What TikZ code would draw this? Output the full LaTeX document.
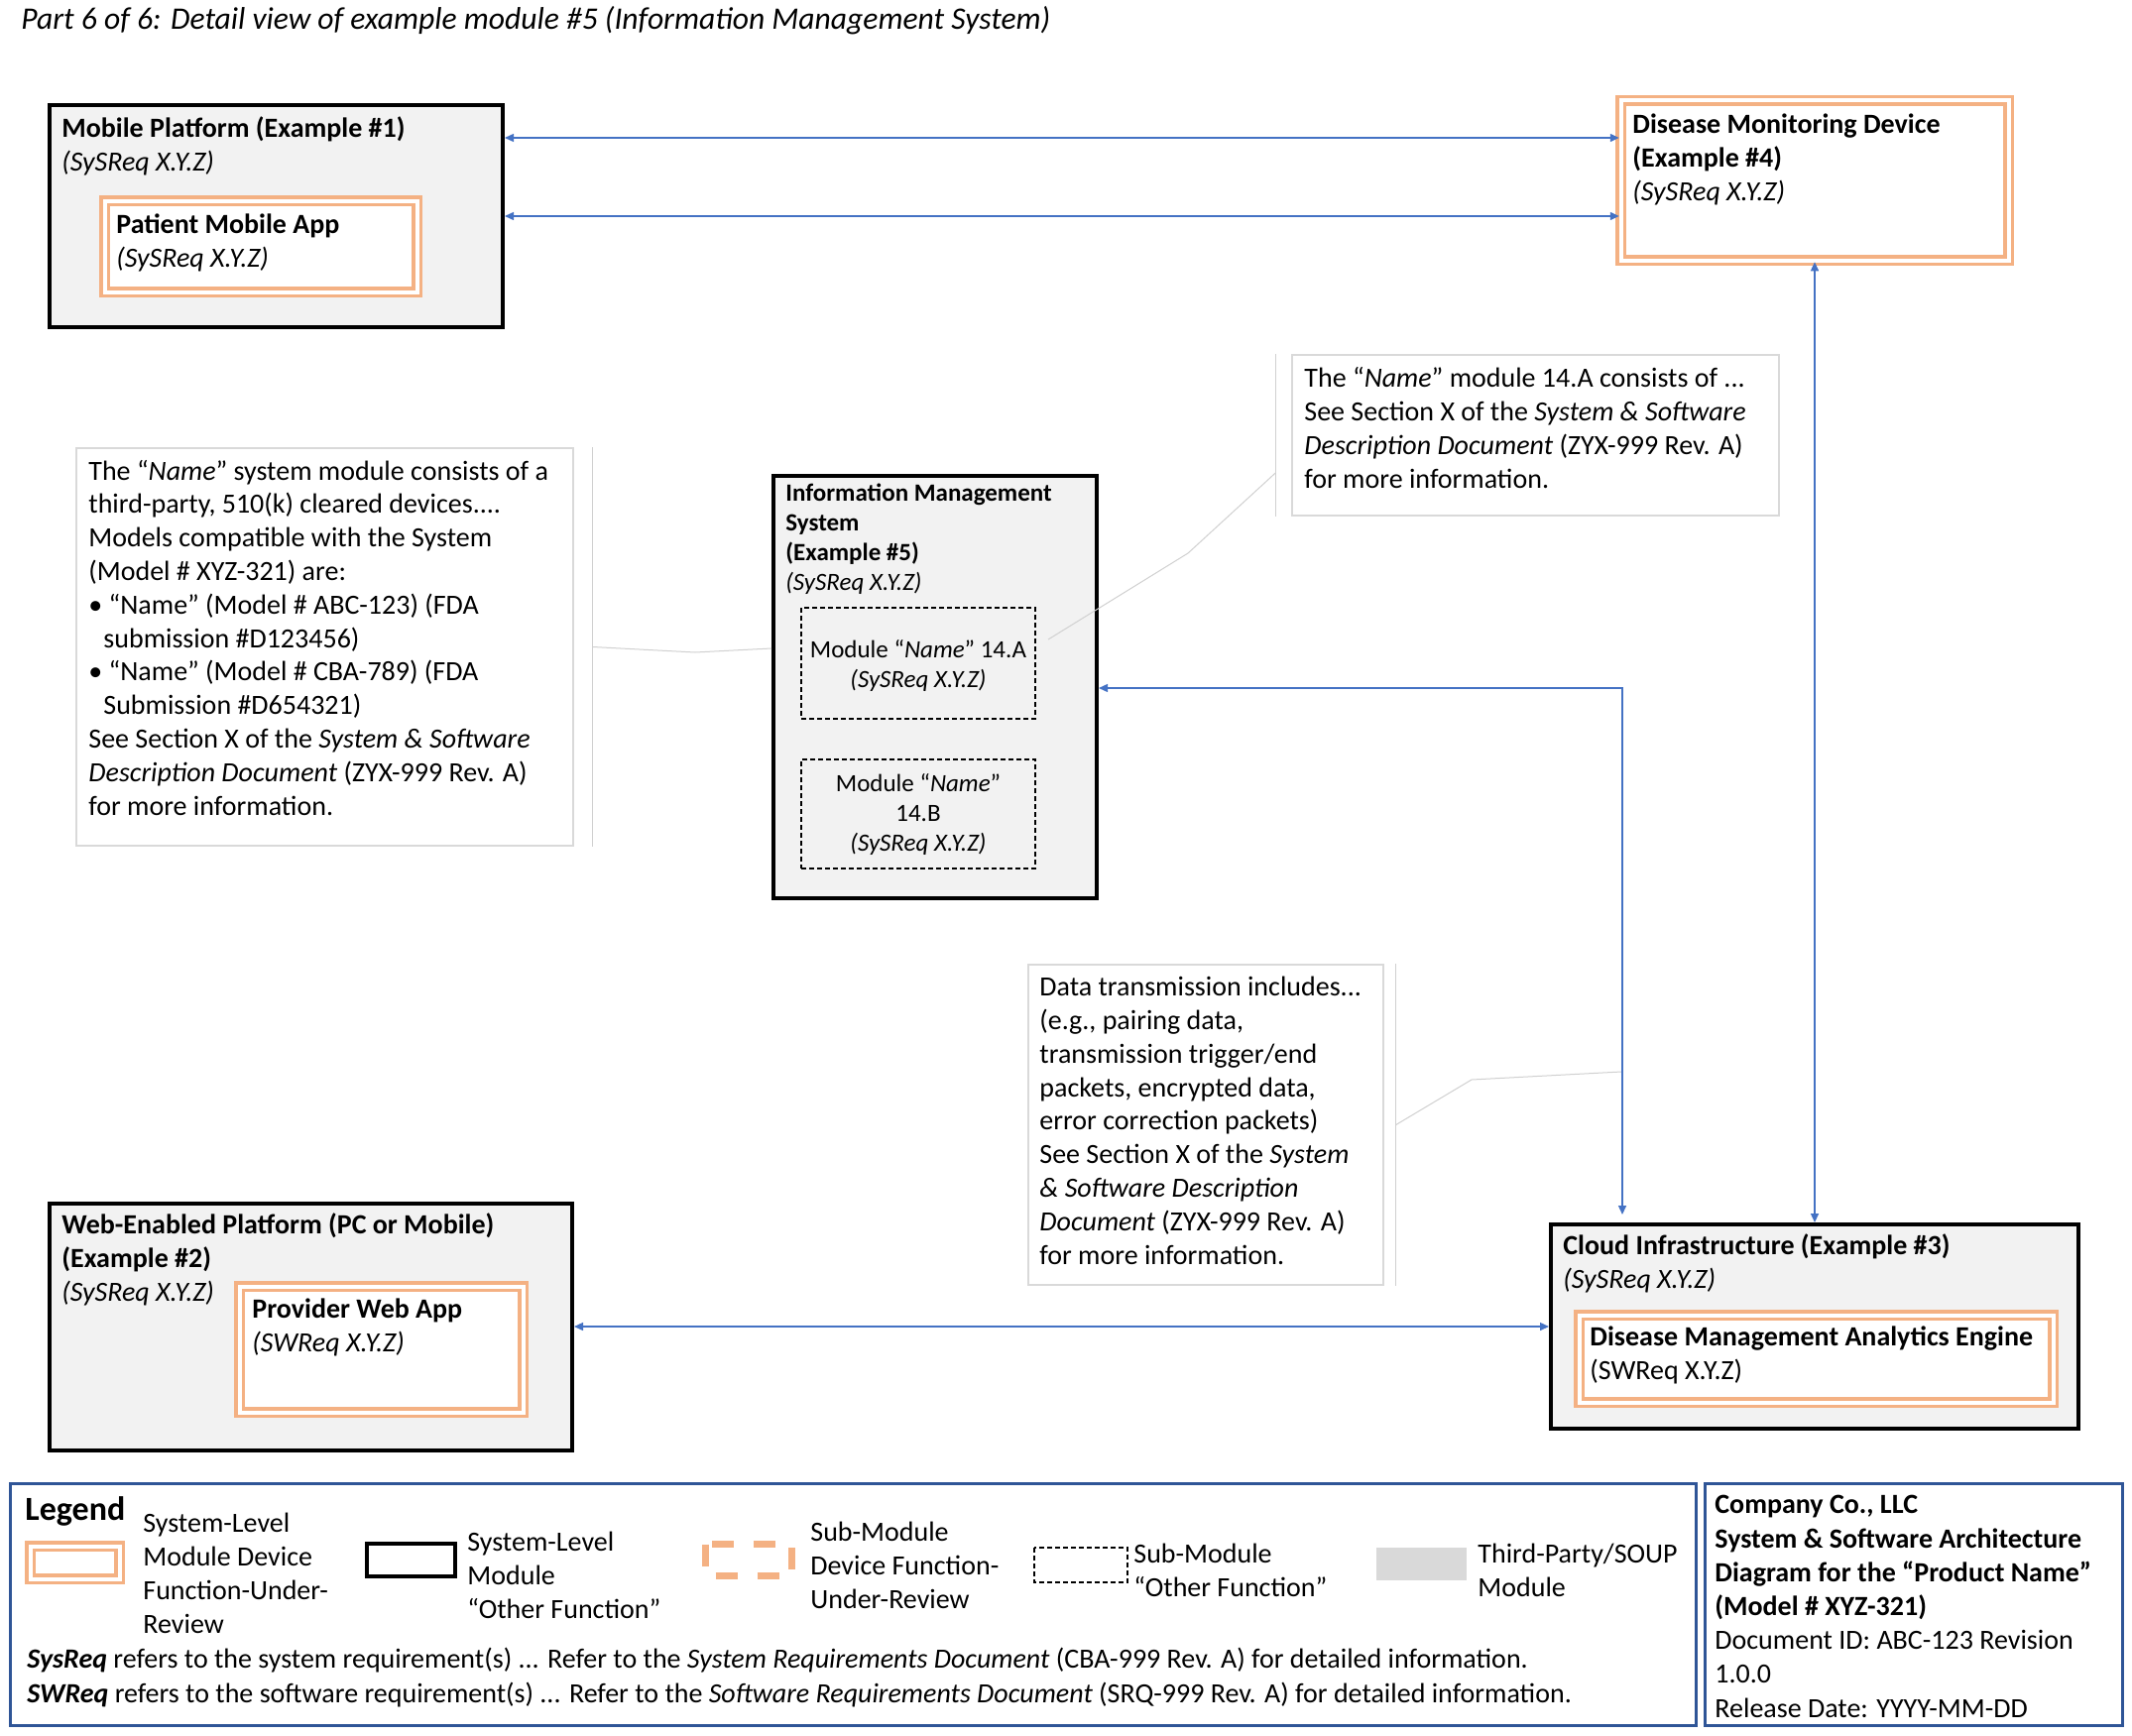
\documentclass[tikz,border=0pt]{standalone}
\usepackage{fontspec}
\setmainfont{Carlito}
\usepackage{tikz}
\usetikzlibrary{arrows.meta,fit}

\definecolor{dueorange}{HTML}{F4B183}
\definecolor{boxgray}{HTML}{F2F2F2}
\definecolor{soupgray}{HTML}{D9D9D9}
\definecolor{notegray}{HTML}{D9D9D9}
\definecolor{leadergray}{HTML}{D0D0D0}
\definecolor{linkblue}{HTML}{4472C4}
\definecolor{frameblue}{HTML}{2F5597}

% text nodes are placed at the baseline of their last line
\tikzset{
	sysbox/.style={draw=black, line width=2pt, fill=boxgray, inner sep=0pt},
	duebox/.style={draw=dueorange, line width=1.75pt, double=white, double distance=2pt, fill=white, inner sep=0pt},
	subbox/.style={draw=black, line width=0.6pt, dash pattern=on 2.5pt off 1.5pt, inner sep=0pt},
	notebox/.style={draw=notegray, line width=0.75pt, fill=white, inner sep=0pt},
	link/.style={linkblue, line width=0.7pt, {Triangle[length=4.5pt,width=4pt]}-{Triangle[length=4.5pt,width=4pt]}},
	leader/.style={draw=leadergray, line width=0.5pt},
	legendframe/.style={draw=frameblue, line width=1.5pt, inner sep=0pt},
	boxtext/.style={anchor=base west, align=left, inner sep=0pt, font=\fontsize{14}{17}\selectfont},
	notetext/.style={boxtext, font=\fontsize{14}{16.9}\selectfont},
	imstext/.style={boxtext, font=\fontsize{12.5}{15}\selectfont},
}

\begin{document}
\begin{tikzpicture}[x=0.5pt, y=-0.5pt]
	\useasboundingbox (0,0) rectangle (2150,1750);
	\node[boxtext, font=\fontsize{15.8}{19}\selectfont\itshape] (caption) at (21,30)
		{Part 6 of 6: Detail view of example module \#5 (Information Management System)};

	% system-level modules
	\node[sysbox, fit={(50,106) (507,330)}] (mobile) {};
	\node[duebox, fit={(105.5,202.5) (420.5,294.5)}] (patientapp) {};
	\node[duebox, fit={(1634.5,101.5) (2025.5,262.5)}] (monitor) {};
	\node[sysbox, fit={(780,480) (1106,906)}] (ims) {};
	\node[subbox, fit={(808,613) (1044,725)}] (mod14a) {};
	\node[subbox, fit={(808,766) (1044,876)}] (mod14b) {};
	\node[sysbox, fit={(50,1214) (577,1463)}] (web) {};
	\node[duebox, fit={(241.5,1297.5) (527.5,1424.5)}] (providerapp) {};
	\node[sysbox, fit={(1564,1235) (2096,1441)}] (cloud) {};
	\node[duebox, fit={(1592.5,1326.5) (2070.5,1414.5)}] (engine) {};

	\node[boxtext] (mobile-text) at (62,172) {\textbf{Mobile Platform (Example \#1)}\\\textit{(SySReq X.Y.Z)}};
	\node[boxtext] (patientapp-text) at (117,269) {\textbf{Patient Mobile App}\\\textit{(SySReq X.Y.Z)}};
	\node[boxtext] (monitor-text) at (1646,202) {\textbf{Disease Monitoring Device}\\\textbf{(Example \#4)}\\\textit{(SySReq X.Y.Z)}};
	\node[imstext] (ims-text) at (792,595) {\textbf{Information Management}\\\textbf{System}\\\textbf{(Example \#5)}\\\textit{(SySReq X.Y.Z)}};
	\node[imstext, anchor=base, align=center] (mod14a-text) at (926,693) {Module “\textit{Name}” 14.A\\\textit{(SySReq X.Y.Z)}};
	\node[imstext, anchor=base, align=center] (mod14b-text) at (926,858) {Module “\textit{Name}”\\14.B\\\textit{(SySReq X.Y.Z)}};
	\node[boxtext] (web-text) at (62,1312) {\textbf{Web-Enabled Platform (PC or Mobile)}\\\textbf{(Example \#2)}\\\textit{(SySReq X.Y.Z)}};
	\node[boxtext] (providerapp-text) at (254,1363) {\textbf{Provider Web App}\\\textit{(SWReq X.Y.Z)}};
	\node[boxtext] (cloud-text) at (1576,1299) {\textbf{Cloud Infrastructure (Example \#3)}\\\textit{(SySReq X.Y.Z)}};
	\node[boxtext] (engine-text) at (1603,1391) {\textbf{Disease Management Analytics Engine}\\(SWReq X.Y.Z)};

	% notes
	\node[notebox, fit={(77,452) (578,853)}] (namenote) {};
	\node[notetext] (namenote-text) at (89,822) {The “\textit{Name}” system module consists of a\\
		third-party, 510(k) cleared devices....\\
		Models compatible with the System\\
		(Model \# XYZ-321) are:\\
		• “Name” (Model \# ABC-123) (FDA\\
		\hspace*{7.5pt}submission \#D123456)\\
		• “Name” (Model \# CBA-789) (FDA\\
		\hspace*{7.5pt}Submission \#D654321)\\
		See Section X of the \textit{System \& Software}\\
		\textit{Description Document} (ZYX-999 Rev. A)\\
		for more information.};
	\node[notebox, fit={(1303,358) (1794,520)}] (modnote) {};
	\node[notetext] (modnote-text) at (1315,492) {The “\textit{Name}” module 14.A consists of ...\\
		See Section X of the \textit{System \& Software}\\
		\textit{Description Document} (ZYX-999 Rev. A)\\
		for more information.};
	\node[notebox, fit={(1037,973) (1395,1296)}] (datanote) {};
	\node[notetext] (datanote-text) at (1048,1275) {Data transmission includes...\\
		(e.g., pairing data,\\
		transmission trigger/end\\
		packets, encrypted data,\\
		error correction packets)\\
		See Section X of the \textit{System}\\
		\textit{\& Software Description}\\
		\textit{Document} (ZYX-999 Rev. A)\\
		for more information.};

	% leader lines of the notes
	\coordinate (namebend) at (701,658);
	\coordinate (modbend) at (1198,558);
	\coordinate (modend) at (1057,645);
	\coordinate (databend) at (1484,1089);
	\coordinate (dataend) at (1635,1081);
	\draw[leader] ([xshift=9.5pt]namenote.north east) -- ([xshift=9.5pt]namenote.south east);
	\draw[leader] ([xshift=9.5pt]namenote.east) -- (namebend) -- (ims.west |- 0,654);
	\draw[leader] ([xshift=-8pt]modnote.north west) -- ([xshift=-8pt]modnote.south west);
	\draw[leader] ([xshift=-8pt,yshift=-19pt]modnote.west) -- (modbend) -- (modend);
	\draw[leader] ([xshift=6pt]datanote.north east) -- ([xshift=6pt]datanote.south east);
	\draw[leader] ([xshift=6pt]datanote.east) -- (databend) -- (dataend);

	% data links
	\draw[link] (mobile.east |- 0,139) -- (monitor.west |- 0,139);
	\draw[link] (mobile.east |- 0,218) -- (monitor.west |- 0,218);
	\draw[link] (ims.east |- 0,694) -| ([yshift=4pt]cloud.north -| 1636,0);
	\draw[link] (monitor.south -| 1830,0) -- (cloud.north -| 1830,0);
	\draw[link] (web.east |- 0,1338) -- (cloud.west |- 0,1338);

	% legend
	\node[legendframe, fit={(10,1496) (1710,1740)}] (legend) {};
	\node[legendframe, fit={(1719,1496) (2140,1740)}] (titleblock) {};
	\node[boxtext, font=\fontsize{17}{20}\selectfont\bfseries] (legend-title) at (25,1533) {Legend};
	\draw[duebox] (30.5,1559.5) rectangle (120.5,1592.5);
	\node[boxtext, font=\fontsize{14}{16.85}\selectfont] (legend-due) at (144,1647) {System-Level\\Module Device\\Function-Under-\\Review};
	\draw[sysbox, fill=white] (370,1557) rectangle (459,1590);
	\node[boxtext] (legend-sys) at (471,1632) {System-Level\\Module\\“Other Function”};
	\draw[draw=dueorange, line width=3.5pt, dash pattern=on 11pt off 10pt] (711.5,1557.5) rectangle (798.5,1589.5);
	\node[boxtext] (legend-subdue) at (817,1622) {Sub-Module\\Device Function-\\Under-Review};
	\draw[subbox] (1043,1561) rectangle (1137,1596);
	\node[boxtext] (legend-sub) at (1143,1610) {Sub-Module\\“Other Function”};
	\fill[soupgray] (1388,1561) rectangle (1479,1594);
	\node[boxtext] (legend-soup) at (1490,1610) {Third-Party/SOUP\\Module};
	\node[boxtext, font=\fontsize{14}{17.5}\selectfont] (legend-refs) at (27,1717)
		{\textbf{\textit{SysReq}} refers to the system requirement(s) ... Refer to the \textit{System Requirements Document} (CBA-999 Rev. A) for detailed information.\\
		\textbf{\textit{SWReq}} refers to the software requirement(s) ... Refer to the \textit{Software Requirements Document} (SRQ-999 Rev. A) for detailed information.};
	\node[boxtext, font=\fontsize{14}{17.1}\selectfont] (titleblock-text) at (1729,1732) {\textbf{Company Co., LLC}\\
		\textbf{System \& Software Architecture}\\
		\textbf{Diagram for the “Product Name”}\\
		\textbf{(Model \# XYZ-321)}\\
		Document ID: ABC-123 Revision\\
		1.0.0\\
		Release Date: YYYY-MM-DD};
\end{tikzpicture}
\end{document}
